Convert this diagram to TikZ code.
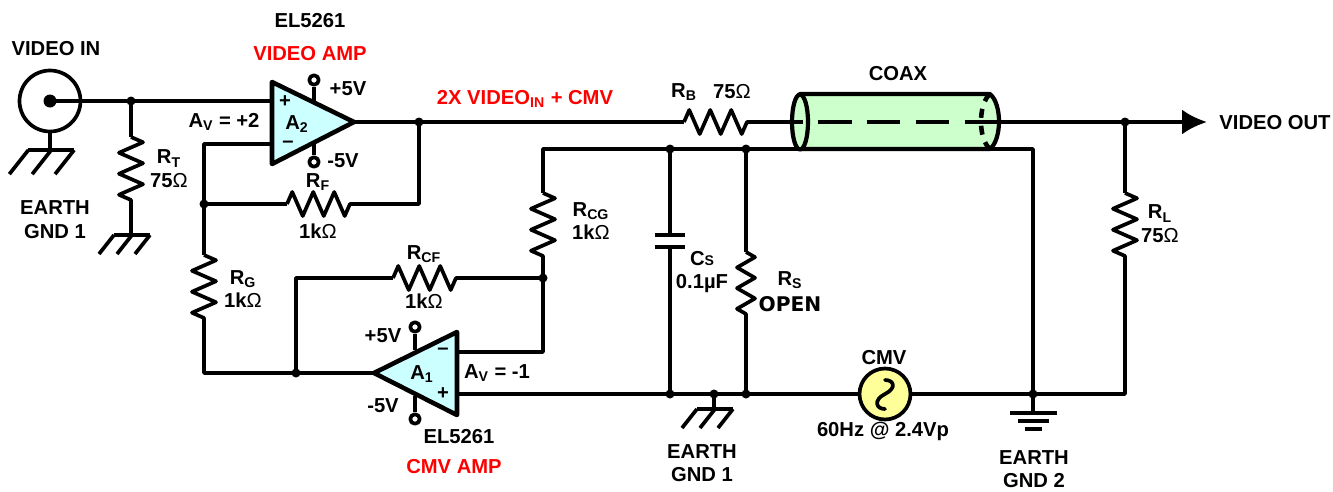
\documentclass[tikz,border=0pt]{standalone}
\usepackage{fontspec}
\setmainfont{Liberation Sans}
\newfontfamily\widefont{DejaVu Sans}
\usetikzlibrary{arrows.meta,decorations.pathmorphing,positioning}
\definecolor{ampcyan}{HTML}{CCFFFF}
\definecolor{coaxgreen}{HTML}{CCFFCC}
\definecolor{srcyellow}{HTML}{FFFF99}
\newcommand{\ohm}{{\mdseries Ω}}
\tikzset{
    earth/.pic={
        \draw (-17,0) -- (19,0);
        \draw (-17,0) -- (-32,19);
        \draw (1,0) -- (-14,19);
        \draw (19,0) -- (4,19);
    }
}

\begin{document}
\begin{tikzpicture}[
    x=0.02cm, y=-0.02cm,
    line width=2.1pt, line join=round,
    lbl/.style={inner sep=0pt, align=center, font=\fontsize{11.5}{13.5}\selectfont\bfseries},
    redlbl/.style={lbl, text=red},
    dot/.style={circle, fill=black, inner sep=0pt, minimum size=0.18cm},
    term/.style={circle, draw, fill=white, inner sep=0pt, minimum size=0.19cm},
    resistor/.style={decorate, decoration={zigzag, amplitude=0.24cm, segment length=0.4199cm}},
    amp/.style={draw, fill=ampcyan, line width=2.6pt}
]
\useasboundingbox (0,0) rectangle (1333,491);

\node[circle, draw, minimum size=1.22cm, inner sep=0pt] (bnc) at (50,101) {};
\node[dot, minimum size=0.26cm] (bncpin) at (50,101) {};
\coordinate (bncgnd) at (50,150);
\node[dot] (jin) at (131,101) {};
\coordinate (a2plus) at (272,101);
\coordinate (a2minus) at (272,144);
\coordinate (a2out) at (354,122);
\node[dot] (jout) at (419,122) {};
\node[dot] (jfb) at (204,204) {};
\coordinate (fbtop) at (204,144);
\coordinate (rta) at (131,137);
\coordinate (rtb) at (131,200);
\coordinate (rtgnd) at (131,235);
\coordinate (rfa) at (287,204);
\coordinate (rfb) at (350,204);
\coordinate (rfc) at (419,204);
\coordinate (rga) at (204,255);
\coordinate (rgb) at (204,318);
\coordinate (rgc) at (204,373);
\node[dot] (jcm) at (296,373) {};
\coordinate (a1in) at (374,373);
\coordinate (cfc) at (296,278);
\coordinate (cfa) at (393,278);
\coordinate (cfb) at (456,278);
\node[dot] (jcf) at (543,278) {};
\coordinate (cga) at (543,193);
\coordinate (cgb) at (543,256);
\coordinate (shtop) at (543,149);
\coordinate (a1minus) at (457,352);
\coordinate (a1plus) at (457,394);
\coordinate (cfd) at (543,352);
\node[dot] (jcs) at (670,149) {};
\node[dot] (jrs) at (746,149) {};
\coordinate (coaxl) at (800,122);
\coordinate (coaxb) at (990,149);
\coordinate (coaxt) at (1033,149);
\coordinate (capa) at (670,235);
\coordinate (capb) at (670,247);
\node[dot] (jcsb) at (670,394) {};
\node[dot] (jgnd) at (714,394) {};
\node[dot] (jrsb) at (746,394) {};
\coordinate (gndbar) at (714,409);
\coordinate (rsa) at (746,252);
\coordinate (rsb) at (746,314);
\node[circle, draw, fill=srcyellow, inner sep=0pt, minimum size=1.02cm] (cmv) at (885,394) {};
\node[dot] (jgnd2) at (1033,394) {};
\coordinate (gnd2bar) at (1033,413);
\coordinate (rbot) at (1125,394);
\coordinate (rla) at (1125,193);
\coordinate (rlb) at (1125,256);
\node[dot] (jrl) at (1125,122) {};
\coordinate (rba) at (684,122);
\coordinate (rbb) at (747,122);
\coordinate (coaxr) at (998,122);
\coordinate (outtip) at (1207,122);

\draw (bncpin.center) -- (jin.center) -- (a2plus);
\draw (bnc) -- (bncgnd);
\pic[scale=1.27] at (bncgnd) {earth};
\draw (jin.center) -- (rta);
\draw[resistor] (rta) -- (rtb);
\draw (rtb) -- (rtgnd);
\pic at (rtgnd) {earth};
\draw (a2out) -- (jout.center) -- (rba);
\draw[resistor] (rba) -- (rbb);
\draw (rbb) -- (coaxl);
\draw (jout.center) -- (rfc) -- (rfb);
\draw[resistor] (rfa) -- (rfb);
\draw (rfa) -- (jfb.center);
\draw (a2minus) -- (fbtop) -- (jfb.center) -- (rga);
\draw[resistor] (rga) -- (rgb);
\draw (rgb) -- (rgc) -- (jcm.center) -- (a1in);
\draw (jcm.center) -- (cfc) -- (cfa);
\draw[resistor] (cfa) -- (cfb);
\draw (cfb) -- (jcf.center) -- (cfd) -- (a1minus);
\draw (jcf.center) -- (cgb);
\draw[resistor] (cga) -- (cgb);
\draw (cga) -- (shtop) -- (jcs.center) -- (jrs.center) -- (coaxl |- jrs);
\draw (jcs.center) -- (capa);
\draw ([xshift=-0.3cm]capa) -- ([xshift=0.3cm]capa);
\draw ([xshift=-0.3cm]capb) -- ([xshift=0.3cm]capb);
\draw (capb) -- (jcsb.center);
\draw (jrs.center) -- (rsa);
\draw[resistor, decoration={amplitude=0.18cm, segment length=0.4133cm}] (rsa) -- (rsb);
\draw (rsb) -- (jrsb.center);
\draw (a1plus) -- (jcsb.center) -- (jgnd.center) -- (jrsb.center) -- (cmv);
\draw (cmv) -- (jgnd2.center) -- (rbot) -- (rlb);
\draw[resistor] (rla) -- (rlb);
\draw (rla) -- (jrl.center);
\draw (jgnd.center) -- (gndbar);
\pic at (gndbar) {earth};
\draw (jgnd2.center) -- (gnd2bar);
\draw (1010,413) -- (1057,413);
\draw (1018,421) -- (1049,421);
\draw (1025,429) -- (1042,429);
\draw (coaxb) -- (coaxt) -- (jgnd2.center);
\draw[-{Latex[length=0.5cm,width=0.5cm]}] (coaxr) -- (jrl.center) -- (outtip);

\draw[fill=coaxgreen, line width=2.4pt] (800,94) -- (990,94) .. controls (1002,104) and (1002,139) .. (coaxb) -- (800,149) -- cycle;
\draw[fill=coaxgreen, line width=2.4pt] (coaxl) ellipse [x radius=8, y radius=27.5];
\draw[line width=2.6pt] (792,122) -- (803,122);
\draw[line width=2.6pt, dash pattern=on 0.67cm off 0.31cm] (818,122) -- (1000,122);
\draw[line width=2.6pt, dash pattern=on 0.18cm off 0.16cm] (990,94) .. controls (978,104) and (978,139) .. (coaxb);

\node[term] (a2vp) at (314,80) {};
\node[term] (a2vn) at (314,162) {};
\draw (a2vp) -- (314,105);
\draw (a2vn) -- (314,140);
\draw[amp] (272,82) -- (a2out) -- (272,164) -- cycle;
\node[term] (a1vp) at (415,327) {};
\node[term] (a1vn) at (415,419) {};
\draw (a1vp) -- (415,350);
\draw (a1vn) -- (415,396);
\draw[amp] (457,332) -- (a1in) -- (457,415) -- cycle;

\draw[line cap=round] (885,380) .. controls (894,380) and (897,388) .. (885,394) .. controls (873,400) and (876,409) .. (885,409);

\node[lbl] (vinlbl) at (56,49) {VIDEO IN};
\node[lbl] (a2part) at (310,21) {EL5261};
\node[redlbl] (a2name) at (310,54) {VIDEO AMP};
\node[lbl] (a2vplbl) at (348,89) {+5V};
\node[lbl] (a2vnlbl) at (343,161) {-5V};
\node[lbl] (a2lbl) at (297,124) {A\textsubscript{2}};
\node[lbl] (a2pl) at (285,102) {+};
\node[lbl] (a2mi) at (288,144) {–};
\node[lbl] (a2gain) at (224,122) {A\textsubscript{V} = +2};
\node[lbl] (rtlbl) at (169,169) {R\textsubscript{T}\\75\ohm};
\node[lbl] (gnd1lbl) at (55,220) {EARTH\\GND 1};
\node[lbl] (rflbl) at (318,182) {R\textsubscript{F}};
\node[lbl] (rfval) at (318,231) {1k\ohm};
\node[redlbl] (sumlbl) at (525,99) {2X VIDEO\textsubscript{IN} + CMV};
\node[lbl] (rblbl) at (684,92) {R\textsubscript{B}};
\node[lbl] (rbval) at (732,92) {75\ohm};
\node[lbl] (coaxlbl) at (898,74) {COAX};
\node[lbl] (voutlbl) at (1275,123) {VIDEO OUT};
\node[lbl] (cglbl) at (591,221) {R\textsubscript{CG}\\1k\ohm};
\node[lbl] (cflbl) at (424,254) {R\textsubscript{CF}};
\node[lbl] (cfval) at (424,301) {1k\ohm};
\node[lbl] (rglbl) at (243,289) {R\textsubscript{G}\\1k\ohm};
\node[lbl] (cslbl) at (702,272) {C{\footnotesize S}\\0.1µF};
\node[lbl] (rslbl) at (790,280) {R\textsubscript{S}};
\node[lbl, font=\fontsize{11.5}{13}\selectfont\widefont\bfseries] (openlbl) at (790,304) {OPEN};
\node[lbl] (rllbl) at (1160,224) {R\textsubscript{L}\\75\ohm};
\node[lbl] (a1vplbl) at (383,336) {+5V};
\node[lbl] (a1vnlbl) at (383,406) {-5V};
\node[lbl] (a1lbl) at (422,374) {A\textsubscript{1}};
\node[lbl] (a1mi) at (443,351) {–};
\node[lbl] (a1pl) at (443,394) {+};
\node[lbl] (a1gain) at (497,373) {A\textsubscript{V} = -1};
\node[lbl] (a1part) at (459,437) {EL5261};
\node[redlbl] (a1name) at (454,467) {CMV AMP};
\node[lbl] (cmvlbl) at (884,358) {CMV};
\node[lbl] (cmvval) at (883,431) {60Hz @ 2.4Vp};
\node[lbl] (gndmid) at (702,463) {EARTH\\GND 1};
\node[lbl] (gnd2lbl) at (1034,469) {EARTH\\GND 2};

\end{tikzpicture}
\end{document}
